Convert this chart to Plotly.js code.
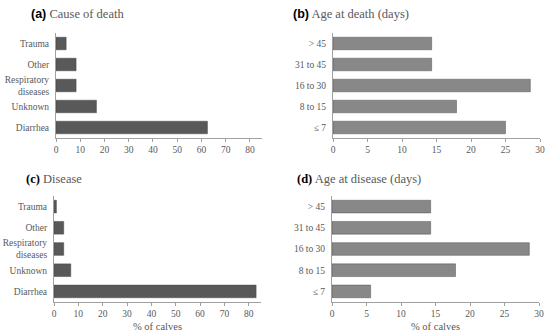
<!DOCTYPE html>
<html><head><meta charset="utf-8">
<script src="https://cdn.plot.ly/plotly-3.0.1.min.js"></script>
<style>html,body{margin:0;padding:0;background:#fff}</style>
</head><body><div id="chart" style="width:550px;height:335px"></div>
<script>
const causeCategories = ["Diarrhea", "Unknown", "Respiratory<br>diseases", "Other", "Trauma"];
const causeOfDeath = [62.5, 16.7, 8.3, 8.3, 4.2];
const disease = [83.0, 6.9, 4.0, 4.0, 1.0];
const ageCategories = ["≤ 7", "8 to 15", "16 to 30", "31 to 45", "> 45"];
const ageAtDeath = [25.0, 17.9, 28.6, 14.3, 14.3];
const ageAtDisease = [5.6, 17.9, 28.6, 14.3, 14.3];
const cause85Ticks = [0, 10, 20, 30, 40, 50, 60, 70, 80];
const age30Ticks = [0, 5, 10, 15, 20, 25, 30];

const W = 550, H = 335;
const dark = "#595959", light = "#888888", txt = "#595959", axc = "#a0a0a0";
const SERIF = "Liberation Serif";
const SANS = "Liberation Sans";
const tf = {family: SERIF, size: 9.5, color: txt};

function bar(x, y, color, xa, ya) {
  return {type: "bar", orientation: "h", x: x, y: y, xaxis: xa, yaxis: ya,
    marker: {color: color, line: {color: "#3a3a3a", width: 0.4}}, hoverinfo: "x+y"};
}
function xd(a, b) { return [a / W, b / W]; }
function yd(top, bottom) { return [1 - bottom / H, 1 - top / H]; }
function xax(dom, anchor, range, ticks, title) {
  const o = {domain: dom, anchor: anchor, range: range, tickvals: ticks, ticktext: ticks.map(String),
    showgrid: false, zeroline: false, showline: true, linecolor: axc, linewidth: 1,
    ticks: "outside", ticklen: 3, tickcolor: axc, tickfont: tf, fixedrange: true};
  if (title) o.title = {text: title, font: {family: SERIF, size: 10.5, color: txt}, standoff: 4};
  return o;
}
function yax(dom, anchor) {
  return {domain: dom, anchor: anchor, type: "category", range: [-0.5, 4.5],
    showgrid: false, zeroline: false, showline: true, linecolor: axc, linewidth: 1,
    ticks: "", tickfont: tf, ticklabelstandoff: 4, fixedrange: true};
}

const data = [
  bar(causeOfDeath, causeCategories, dark, "x", "y"),
  bar(ageAtDeath, ageCategories, light, "x2", "y2"),
  bar(disease, causeCategories, dark, "x3", "y3"),
  bar(ageAtDisease, ageCategories, light, "x4", "y4")
];

function ttl(label, rest, x, y, sansBold) {
  const lab = sansBold ? "<span style=\"font-family:" + SANS + "\"><b>" + label + "</b></span>"
                       : "<b>" + label + "</b>";
  return {xref: "paper", yref: "paper", x: x / W, y: 1 - y / H, xanchor: "left", yanchor: "middle",
    showarrow: false, text: "<span style=\"color:#000\">" + lab + "</span> " + rest,
    font: {family: SERIF, size: 12.5, color: txt}};
}

const layout = {
  width: W, height: H, margin: {l: 0, r: 0, t: 0, b: 0},
  paper_bgcolor: "#fff", plot_bgcolor: "#fff", showlegend: false, bargap: 0.4,
  font: {family: SERIF},
  xaxis: xax(xd(56, 262), "y", [0, 85], cause85Ticks),
  yaxis: yax(yd(33, 138), "x"),
  xaxis2: xax(xd(333, 540), "y2", [0, 30], age30Ticks),
  yaxis2: yax(yd(33, 138), "x2"),
  xaxis3: xax(xd(54, 261), "y3", [0, 85], cause85Ticks, "% of calves"),
  yaxis3: yax(yd(196, 302), "x3"),
  xaxis4: xax(xd(332, 539), "y4", [0, 30], age30Ticks, "% of calves"),
  yaxis4: yax(yd(196, 302), "x4"),
  annotations: [
    ttl("(a)", "Cause of death", 29, 14, true),
    ttl("(b)", "Age at death (days)", 291, 14, true),
    ttl("(c)", "Disease", 24, 179, false),
    ttl("(d)", "Age at disease (days)", 295, 179, false)
  ]
};
Plotly.newPlot("chart", data, layout, {displayModeBar: false, staticPlot: true});
</script></body></html>
